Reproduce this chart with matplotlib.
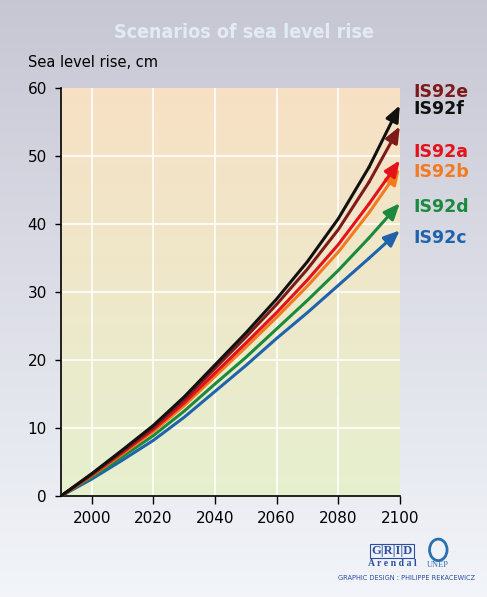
import matplotlib.pyplot as plt
import numpy as np
from matplotlib.patches import Circle

years = [1990, 2000, 2010, 2020, 2030, 2040, 2050, 2060, 2070, 2080, 2090, 2100]

is92f = [0, 3.3, 6.8, 10.4, 14.6, 19.3, 24.0, 29.0, 34.5, 40.8, 48.4, 57.5]
is92e = [0, 3.2, 6.6, 10.1, 14.2, 18.8, 23.4, 28.2, 33.4, 39.2, 46.2, 54.4]
is92a = [0, 3.1, 6.4, 9.8, 13.7, 18.1, 22.5, 27.0, 31.8, 37.0, 43.0, 49.4]
is92b = [0, 3.0, 6.2, 9.5, 13.3, 17.6, 21.9, 26.3, 30.9, 35.9, 41.7, 48.2]
is92d = [0, 2.8, 5.8, 8.9, 12.5, 16.5, 20.4, 24.6, 28.8, 33.2, 38.0, 43.1]
is92c = [0, 2.5, 5.3, 8.2, 11.6, 15.4, 19.2, 23.2, 27.0, 31.0, 35.0, 39.1]

# drawing order: back to front
series = [("IS92c", is92c, "#1f63ad"),
          ("IS92d", is92d, "#1b8a3c"),
          ("IS92b", is92b, "#f47a20"),
          ("IS92a", is92a, "#e3121b"),
          ("IS92e", is92e, "#7e1a1a"),
          ("IS92f", is92f, "#111111")]

# label positions on the right (in data units of y)
label_y = {"IS92e": 59.4, "IS92f": 56.9, "IS92a": 50.6, "IS92b": 47.7,
           "IS92d": 42.5, "IS92c": 38.0}

fig = plt.figure(figsize=(4.87, 5.97), dpi=100)

# figure background gradient
bg = fig.add_axes([0, 0, 1, 1], zorder=-10)
grad = np.linspace(0, 1, 256).reshape(-1, 1)
top = np.array([0.78, 0.78, 0.83])
bot = np.array([0.95, 0.96, 0.98])
img = top + (bot - top) * grad[..., None]
bg.imshow(img, aspect="auto", extent=[0, 1, 0, 1], origin="upper")
bg.axis("off")

ax = fig.add_axes([0.125, 0.169, 0.696, 0.683])
ax.set_xlim(1990, 2100)
ax.set_ylim(0, 60)

# plot area gradient (peach top -> pale green bottom)
ptop = np.array([0.97, 0.88, 0.77])
pbot = np.array([0.90, 0.94, 0.81])
pimg = ptop + (pbot - ptop) * grad[..., None]
ax.imshow(pimg, aspect="auto", extent=[1990, 2100, 0, 60], origin="upper", zorder=0)

ax.set_xticks([2000, 2020, 2040, 2060, 2080, 2100])
ax.set_yticks([0, 10, 20, 30, 40, 50, 60])
for x in [2000, 2020, 2040, 2060, 2080]:
    ax.axvline(x, color="white", lw=1.5, alpha=0.8, zorder=1)
for y in [10, 20, 30, 40, 50]:
    ax.axhline(y, color="white", lw=1.5, alpha=0.8, zorder=1)

for name, vals, col in series:
    ax.plot(years[:-1], vals[:-1], color=col, lw=2.2, zorder=3,
            solid_capstyle="round", solid_joinstyle="round")
    ax.annotate("", xy=(years[-1], vals[-1]), xytext=(years[-2], vals[-2]),
                arrowprops=dict(arrowstyle="-|>,head_length=0.6,head_width=0.25",
                                color=col, lw=2.2, mutation_scale=16,
                                shrinkA=0, shrinkB=0),
                zorder=4, annotation_clip=False)
    ax.text(2104.5, label_y[name], name, color=col, fontsize=12.5,
            fontweight="bold", ha="left", va="center", clip_on=False)

for s in ["top", "right"]:
    ax.spines[s].set_visible(False)
ax.spines["left"].set_linewidth(1.2)
ax.spines["bottom"].set_linewidth(1.2)
ax.tick_params(axis="y", length=4, width=1, labelsize=11, pad=6)
ax.tick_params(axis="x", length=6, width=1, labelsize=11, pad=5)

fig.text(0.5, 0.945, "Scenarios of sea level rise", ha="center", va="center",
         fontsize=14, fontweight="bold", fontstretch="condensed",
         color="#e2ebf4", family="DejaVu Sans")
fig.text(0.058, 0.895, "Sea level rise, cm", ha="left", va="center",
         fontsize=10.5, color="black")

# footer credits
fig.text(0.805, 0.077, "G|R|I|D", ha="center", va="center", fontsize=9,
         fontweight="bold", color="#2b4f9e", family="Liberation Serif",
         bbox=dict(boxstyle="square,pad=0.1", fc="none", ec="#2b4f9e", lw=0.8))
fig.text(0.805, 0.056, "A r e n d a l", ha="center", va="center", fontsize=7,
         fontweight="bold", color="#2b4f9e", family="Liberation Serif")
fig.patches.append(Circle((0.9, 0.079), 0.018, transform=fig.transFigure,
                          fc="none", ec="#2b6fb0", lw=2))
fig.text(0.9, 0.053, "UNEP", ha="center", va="center", fontsize=6,
         color="#2b6fb0", family="Liberation Serif")
fig.text(0.975, 0.032, "GRAPHIC DESIGN : PHILIPPE REKACEWICZ", ha="right",
         va="center", fontsize=4.8, color="#2b4f9e",
         family=["Liberation Sans Narrow", "DejaVu Sans"])

fig.savefig("out.png", dpi=100)
